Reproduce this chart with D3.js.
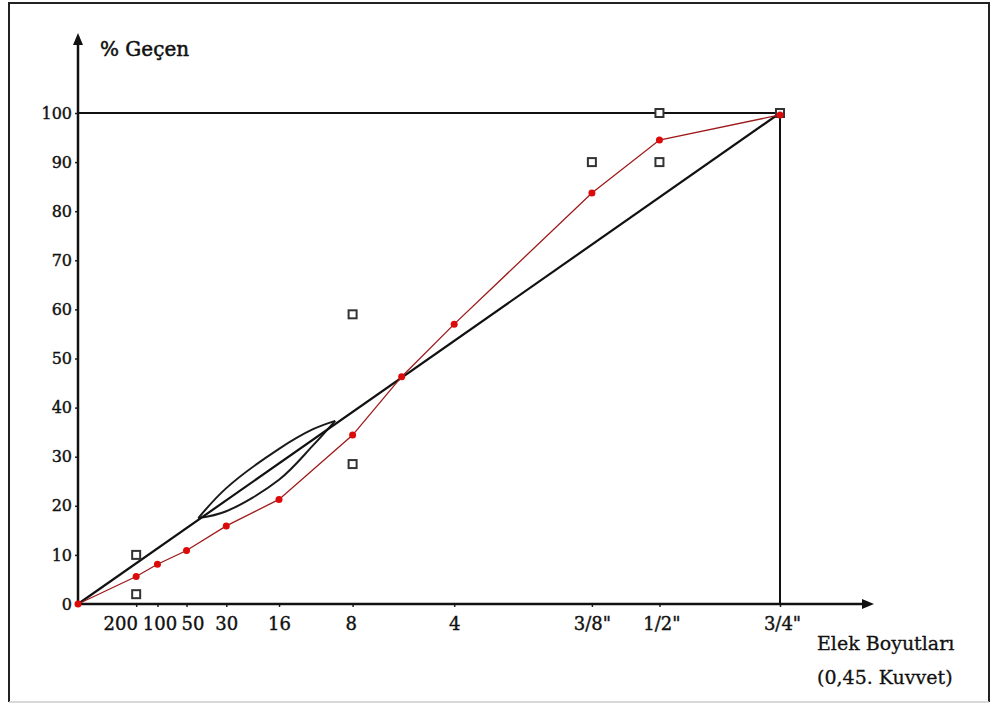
<!DOCTYPE html>
<html>
<head>
<meta charset="utf-8">
<script src="https://cdn.jsdelivr.net/npm/d3@7"></script>
<style>
  body { margin: 0; background: #fff; }
  svg text { font-family: "DejaVu Serif", "Liberation Serif", serif; fill: #111; }
</style>
</head>
<body>
<div id="chart"></div>
<script>
// sieve sizes (mm) and their labels on the x axis
const sieveSizes = [0.075, 0.15, 0.3, 0.6, 1.18, 2.36, 4.75, 9.5, 12.5, 19];
const sieveLabels = ["200", "100", "50", "30", "16", "8", "4", "3/8\"", "1/2\"", "3/4\""];
const yTicks = [0, 10, 20, 30, 40, 50, 60, 70, 80, 90, 100];

// mix gradation (red line)
const gradSize = [0, 0.075, 0.15, 0.3, 0.6, 1.18, 2.36, 3.4, 4.75, 9.5, 12.5, 19];
const gradPass = [0, 5.6, 8.1, 10.9, 15.9, 21.3, 34.4, 46.3, 57.0, 83.7, 94.5, 99.6];

// control points (hollow squares)
const ctrlSize = [0.075, 0.075, 2.36, 2.36, 9.5, 12.5, 12.5, 19];
const ctrlPass = [10, 2, 59, 28.5, 90, 100, 90, 100];

// maximum density line
const maxSize = [0, 19];
const maxPass = [0, 100];

// restricted zone (lens)
const zoneSize = [0.377, 0.6, 1.18, 1.67, 2.04];
const zoneUpper = [17.5, 23.6, 31.6, 35.6, 37.3];
const zoneLower = [17.5, 18.9, 25.3, 32.3, 37.3];

const width = 991, height = 704;
const x0 = 78, y0 = 604;

const svg = d3.select("#chart").append("svg")
    .attr("width", width)
    .attr("height", height);

// outer frame
svg.append("path")
    .attr("d", "M9,702 L9,3 L989,3 L989,702")
    .attr("fill", "none").attr("stroke", "#222").attr("stroke-width", 2);
svg.append("line")
    .attr("x1", 9).attr("x2", 989).attr("y1", 702).attr("y2", 702)
    .attr("stroke", "#ccc").attr("stroke-width", 1.5);

const x = d3.scalePow().exponent(0.45).domain([0, 19]).range([x0, 780]);
const y = d3.scaleLinear().domain([0, 100]).range([y0, 113]);

// y axis
const yAxis = svg.append("g")
    .attr("transform", `translate(${x0},0)`)
    .call(d3.axisLeft(y).tickValues(yTicks).tickSize(3).tickPadding(3));
yAxis.select(".domain").remove();
yAxis.selectAll("line").attr("stroke", "#222").attr("stroke-width", 1.5);
yAxis.selectAll("text")
    .attr("font-size", 16).attr("font-family", "DejaVu Serif")
    .attr("fill", "#111").attr("stroke", "#111").attr("stroke-width", 0.4);

// x axis
const tickNudge = [-16, 2, 6, 0, 0, -2, 0, 0, 2, 2];
const xAxis = svg.append("g")
    .attr("transform", `translate(0,${y0})`)
    .call(d3.axisBottom(x).tickValues(sieveSizes)
        .tickFormat((d, i) => sieveLabels[i]).tickSize(3).tickPadding(10));
xAxis.select(".domain").remove();
xAxis.selectAll("line").attr("stroke", "#222").attr("stroke-width", 1.5);
xAxis.selectAll("text")
    .attr("font-size", 18).attr("font-family", "DejaVu Serif")
    .attr("fill", "#111").attr("stroke", "#111").attr("stroke-width", 0.4)
    .attr("dx", (d, i) => tickNudge[i]);

// axis lines with arrows
svg.append("line")
    .attr("x1", x0).attr("y1", y0).attr("x2", x0).attr("y2", 42)
    .attr("stroke", "#111").attr("stroke-width", 2.5);
svg.append("path")
    .attr("d", `M${x0},33 L${x0 - 5},45 L${x0 + 5},45 Z`).attr("fill", "#111");
svg.append("line")
    .attr("x1", x0).attr("y1", y0).attr("x2", 864).attr("y2", y0)
    .attr("stroke", "#111").attr("stroke-width", 2.5);
svg.append("path")
    .attr("d", `M874,${y0} L862,${y0 - 5} L862,${y0 + 5} Z`).attr("fill", "#111");

// 100% line and 3/4" vertical
svg.append("line")
    .attr("x1", x(0)).attr("x2", x(19)).attr("y1", y(100)).attr("y2", y(100))
    .attr("stroke", "#111").attr("stroke-width", 2);
svg.append("line")
    .attr("x1", x(19)).attr("x2", x(19)).attr("y1", y(100)).attr("y2", y(0))
    .attr("stroke", "#111").attr("stroke-width", 2);

// restricted zone
const lineGen = d3.line().curve(d3.curveCatmullRom);
const upperPts = zoneSize.map((s, i) => [x(s), y(zoneUpper[i])]);
const lowerPts = zoneSize.map((s, i) => [x(s), y(zoneLower[i])]);
[upperPts, lowerPts].forEach(pts => {
    svg.append("path")
        .attr("d", lineGen(pts))
        .attr("fill", "none").attr("stroke", "#1a1a1a").attr("stroke-width", 2);
});

// maximum density line
svg.append("path")
    .attr("d", d3.line()(maxSize.map((s, i) => [x(s), y(maxPass[i])])))
    .attr("fill", "none").attr("stroke", "#111").attr("stroke-width", 2.2);

// control points
svg.selectAll("rect.ctrl")
    .data(ctrlSize)
    .enter().append("rect")
    .attr("class", "ctrl")
    .attr("x", d => x(d) - 4)
    .attr("y", (d, i) => y(ctrlPass[i]) - 4)
    .attr("width", 8).attr("height", 8)
    .attr("fill", "#fff").attr("stroke", "#333").attr("stroke-width", 2);

// gradation line
svg.append("path")
    .attr("d", d3.line()(gradSize.map((s, i) => [x(s), y(gradPass[i])])))
    .attr("fill", "none").attr("stroke", "#9e1a1a").attr("stroke-width", 1.3);
svg.selectAll("circle.grad")
    .data(gradSize)
    .enter().append("circle")
    .attr("class", "grad")
    .attr("cx", d => x(d))
    .attr("cy", (d, i) => y(gradPass[i]))
    .attr("r", 3.5)
    .attr("fill", "#dd0a0a");

// titles
svg.append("text")
    .attr("x", 100).attr("y", 56)
    .attr("font-size", 20)
    .attr("stroke", "#111").attr("stroke-width", 0.5)
    .text("% Geçen");
svg.append("text")
    .attr("x", 817).attr("y", 650)
    .attr("font-size", 19)
    .attr("stroke", "#111").attr("stroke-width", 0.3)
    .text("Elek Boyutları");
svg.append("text")
    .attr("x", 817).attr("y", 684)
    .attr("font-size", 19)
    .attr("stroke", "#111").attr("stroke-width", 0.3)
    .text("(0,45. Kuvvet)");
</script>
</body>
</html>
